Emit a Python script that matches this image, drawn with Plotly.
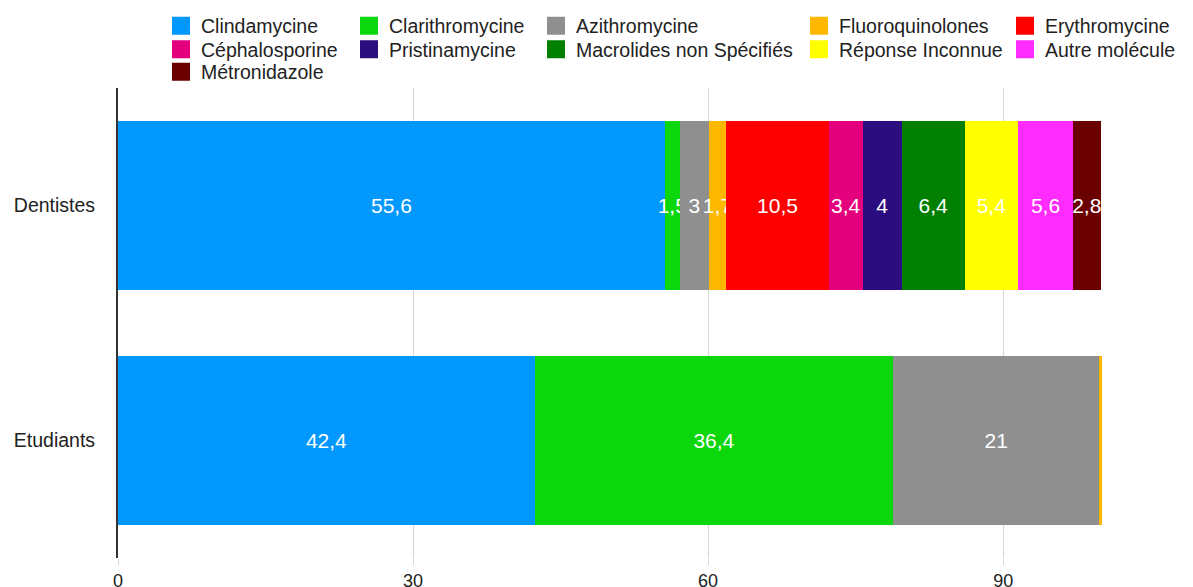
import plotly.graph_objects as go

# Categories (top to bottom) and share of each molecule, in %
categories = ["Dentistes", "Etudiants"]
molecules = [
    "Clindamycine", "Clarithromycine", "Azithromycine", "Fluoroquinolones",
    "Erythromycine", "Céphalosporine", "Pristinamycine",
    "Macrolides non Spécifiés", "Réponse Inconnue", "Autre molécule",
    "Métronidazole",
]
dentistes = [55.6, 1.5, 3, 1.7, 10.5, 3.4, 4, 6.4, 5.4, 5.6, 2.8]
etudiants = [42.4, 36.4, 21, 0.2, 0, 0, 0, 0, 0, 0, 0]
colors = [
    "#0398FD", "#0CD70C", "#8F8F8F", "#FFB800", "#FE0000", "#E4007C",
    "#2B0D7F", "#007F00", "#FFFF00", "#FF2BFF", "#6B0000",
]

W, H = 1193, 587
FONT = "Liberation Sans, Arial, Helvetica, sans-serif"

# legend grid: symbol centre of each column / row, in px
col_x = [181, 369, 556, 819, 1025]
row_y = [26, 49.5, 72]


def fmt(v):
    # slivers too thin to hold a label stay unlabelled
    return ("%g" % v).replace(".", ",") if v >= 0.5 else ""


fig = go.Figure()
for i, name in enumerate(molecules):
    vals = [dentistes[i], etudiants[i]]
    fig.add_trace(go.Bar(
        y=categories, x=vals, orientation="h", name=name,
        marker=dict(color=colors[i], line=dict(width=0)),
        text=[fmt(v) for v in vals],
        textposition="inside", insidetextanchor="middle",
        constraintext="none", textangle=0,
        textfont=dict(color="white", size=21, family=FONT),
        showlegend=False, hoverinfo="x+name",
    ))

# legend entries: one small legend per entry, laid out in a 5-column grid
for i, name in enumerate(molecules):
    lname = "legend" if i == 0 else f"legend{i + 1}"
    col, row = i % 5, i // 5
    fig.add_trace(go.Scatter(
        x=[None], y=[None], xaxis="x2", yaxis="y2",
        mode="markers", name=name,
        marker=dict(symbol="square", size=16, color=colors[i],
                    line=dict(width=2, color=colors[i])),
        legend=lname, showlegend=True, hoverinfo="skip",
    ))
    fig.update_layout({lname: dict(
        x=(col_x[col] - 20) / W, y=1 - row_y[row] / H,
        xref="container", yref="container",
        xanchor="left", yanchor="middle", orientation="v",
        bgcolor="rgba(0,0,0,0)", borderwidth=0, traceorder="normal",
        font=dict(size=19.5, color="#222222", family=FONT),
    )})

fig.update_layout(
    barmode="stack", bargap=0.285,
    width=W, height=H,
    margin=dict(l=118, r=0, t=88, b=29, autoexpand=False),
    plot_bgcolor="white", paper_bgcolor="white",
    font=dict(family=FONT, color="#222222"),
    xaxis=dict(
        type="linear", range=[0, 109.3], dtick=30, tick0=0,
        showgrid=True, gridcolor="#D6D6D6", gridwidth=1,
        zeroline=False, showline=False,
        ticks="outside", ticklen=6, tickcolor="#D6D6D6",
        tickfont=dict(size=18, color="#222222", family=FONT),
    ),
    yaxis=dict(
        type="category", autorange="reversed", showgrid=False, zeroline=False,
        showline=True, linecolor="#333333", linewidth=2,
        ticks="", ticklabelstandoff=17,
        tickfont=dict(size=19.5, color="#222222", family=FONT),
    ),
    xaxis2=dict(type="linear", range=[0, 1], overlaying="x", visible=False),
    yaxis2=dict(type="linear", range=[0, 1], overlaying="y", visible=False),
)

fig.write_html("out.html")
